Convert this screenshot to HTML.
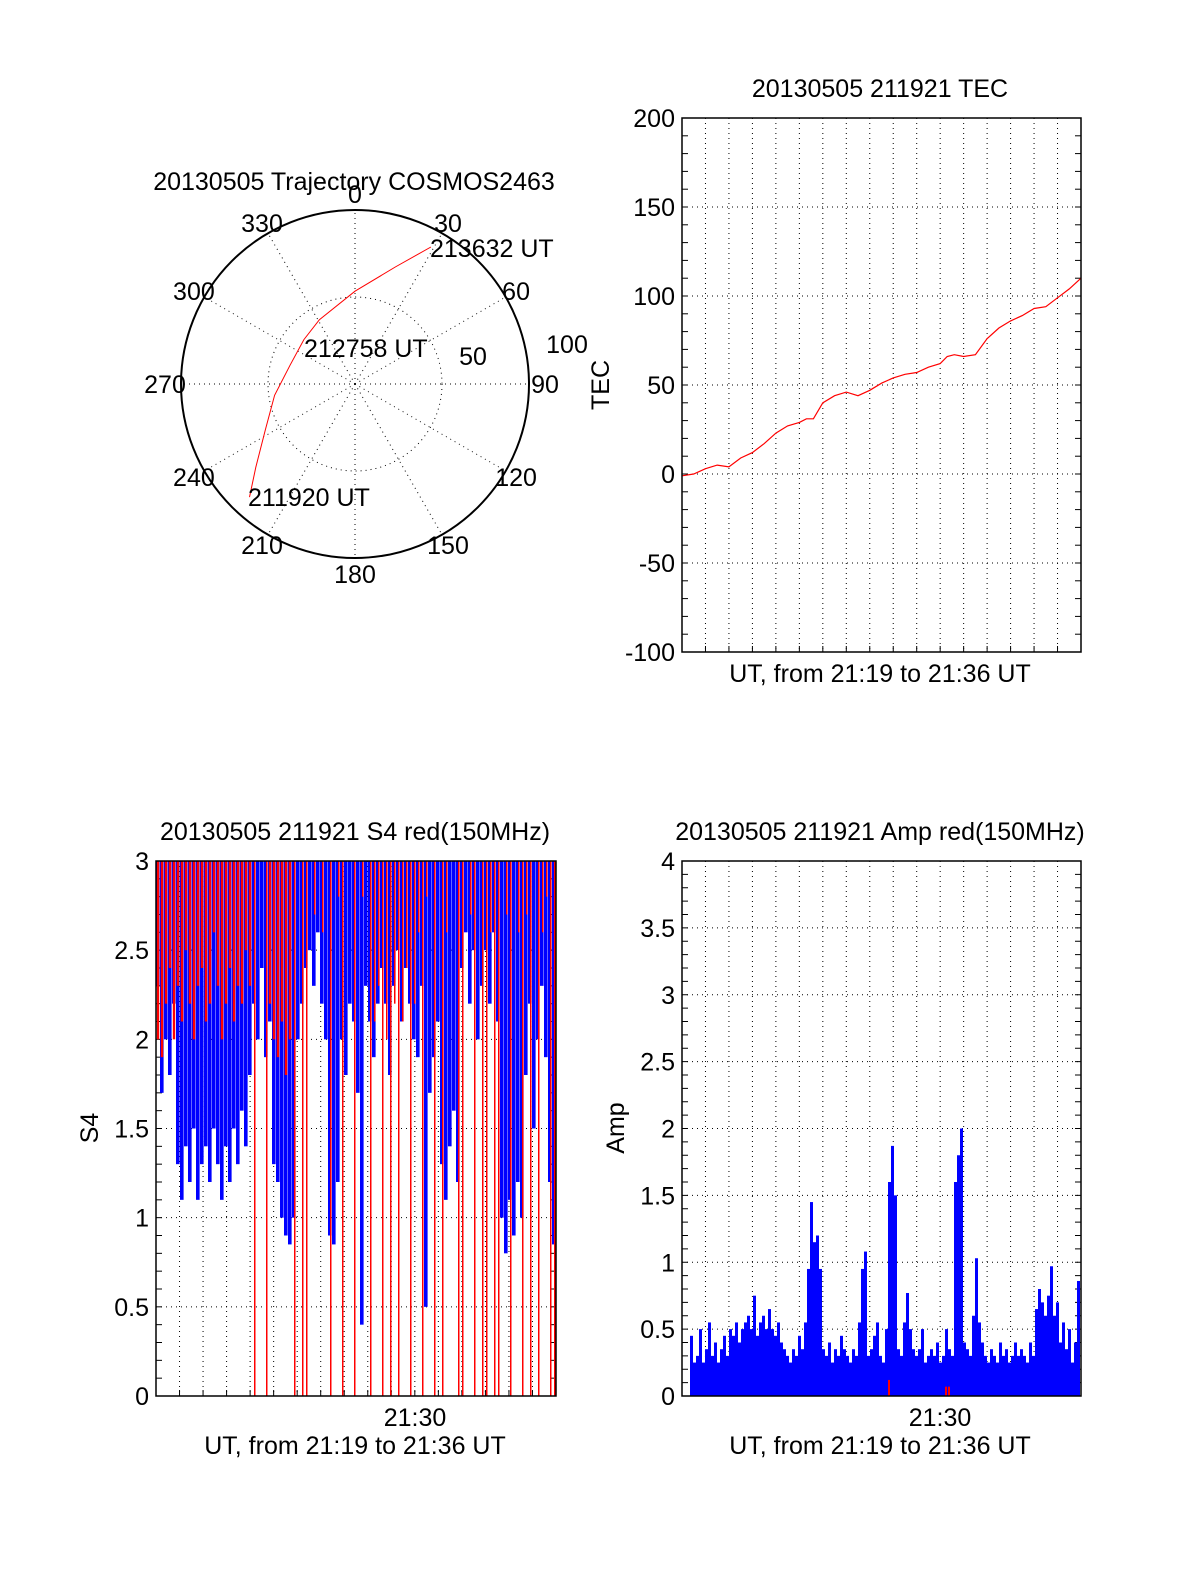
<!DOCTYPE html>
<html><head><meta charset="utf-8"><style>
html,body{margin:0;padding:0;background:#fff}
svg{display:block}
text{font-family:"Liberation Sans",sans-serif;font-size:25px;fill:#000}
</style></head><body>
<svg id="s" width="1200" height="1575" viewBox="0 0 1200 1575" xmlns="http://www.w3.org/2000/svg"></svg>
<script>
// ---- data ----
const trajAz=[223,230,243,262,286,311,331,360,379,389];
const trajEl=[10,23,38,48,55,55,52,42,26,9];
const polarLabels=["0","30","60","90","120","150","180","210","240","270","300","330"];
const tecT=[0,0.5,1,1.5,2,2.5,3,3.5,4,4.5,5,5.3,5.6,6,6.5,7,7.5,8,8.5,9,9.5,10,10.5,11,11.3,11.6,12,12.5,13,13.5,14,14.5,15,15.5,16,16.5,17];
const tecV=[-1,0,3,5,4,9,12,17,23,27,29,31,31,40,44,46,44,47,51,54,56,57,60,62,66,67,66,67,76,82,86,89,93,94,99,104,110];
const tecTicks=[-100,-50,0,50,100,150,200];
const s4Blue=[2.3,1.7,2.0,1.8,2.2,1.3,1.1,1.4,1.2,1.5,1.1,1.3,1.4,1.2,1.5,1.3,1.1,1.4,1.2,1.5,1.3,1.6,1.4,1.8,2.2,2.0,2.4,1.9,2.1,1.3,1.2,1.0,0.9,0.85,1.0,2.0,2.2,2.4,2.5,2.3,2.6,2.2,2.0,0.9,0.85,1.2,2.0,1.8,2.2,2.1,1.7,0.4,2.3,2.1,1.9,2.2,2.4,2.2,1.8,2.3,2.5,2.1,2.4,2.2,2.0,1.9,2.3,0.5,1.7,1.9,2.1,1.3,1.1,1.4,1.6,1.2,2.4,2.6,2.2,2.5,2.0,2.3,2.5,2.2,2.6,2.1,1.0,0.8,1.1,0.9,1.2,1.0,1.8,2.2,1.5,2.0,2.3,1.9,1.2,0.85];
const s4Red=[2.0,1.9,2.2,2.4,2.0,2.3,2.1,2.5,2.2,2.0,2.3,2.4,2.1,2.2,2.6,2.3,2.0,2.2,2.4,2.1,2.3,2.2,2.5,2.3,0,3,3,0,2.2,2.0,1.9,2.1,1.8,2.0,0,3,0,0,3,2.7,3,2.6,3,0,3,2.8,0,3,3,0,3,2.8,3,0,2.1,2.3,0,2.0,0,2.2,0,2.1,2.4,0,2.2,2.6,0,2.8,3,0,3,0,2.6,3,3,0,0,3,2.7,0,3,0,0,2.6,0,0,3,2.7,0,3,2.6,0,2.7,0,3,0,2.6,2.8,0,0];
const s4Ticks=["0","0.5","1","1.5","2","2.5","3"];
const ampBlue=[0.45,0.25,0.3,0.5,0.25,0.35,0.55,0.3,0.4,0.25,0.35,0.45,0.3,0.5,0.45,0.55,0.4,0.5,0.55,0.6,0.5,0.75,0.45,0.55,0.6,0.5,0.65,0.5,0.45,0.55,0.4,0.35,0.3,0.25,0.35,0.3,0.45,0.35,0.55,0.95,1.45,1.15,1.2,0.95,0.35,0.3,0.4,0.25,0.35,0.3,0.45,0.35,0.3,0.25,0.35,0.3,0.55,0.95,1.08,0.3,0.35,0.45,0.55,0.3,0.25,0.5,1.6,1.87,1.5,0.35,0.3,0.55,0.77,0.5,0.35,0.3,0.35,0.5,0.25,0.3,0.35,0.3,0.4,0.25,0.3,0.5,0.35,0.3,1.6,1.8,2.0,0.4,0.35,0.3,0.6,1.03,0.55,0.4,0.3,0.25,0.35,0.3,0.25,0.4,0.3,0.35,0.25,0.3,0.4,0.3,0.35,0.3,0.25,0.4,0.3,0.65,0.8,0.7,0.6,0.75,0.97,0.6,0.7,0.4,0.55,0.35,0.5,0.25,0.4,0.86];
const ampRedIdx=[66,85,86];
const ampRedVal=[0.12,0.07,0.07];
const ampTicks=["0","0.5","1","1.5","2","2.5","3","3.5","4"];

// ---- helpers ----
const NS="http://www.w3.org/2000/svg";
const svg=document.getElementById('s');
function mk(tag,attrs,parent){const e=document.createElementNS(NS,tag);for(const k in attrs)e.setAttribute(k,attrs[k]);(parent||svg).appendChild(e);return e;}
function txt(x,y,s,anchor,name,parent,extra){const t=mk('text',Object.assign({x:x,y:y,'text-anchor':anchor||'middle'},extra||{}),parent);t.textContent=s;


return t;}
const DOT={stroke:'#000','stroke-width':1,'stroke-dasharray':'1,4',fill:'none'};

// ---- polar ----
const cx=355,cy=384,R=174;
const gP=mk('g',{});


function pr(az,el){const r=(90-el)/90*R;const a=az*Math.PI/180;return [cx+r*Math.sin(a),cy-r*Math.cos(a)];}
for(let a=0;a<360;a+=30){const p=pr(a,0);const l=mk('line',Object.assign({x1:cx,y1:cy,x2:p[0],y2:p[1]},DOT),gP);

}
const ic=mk('circle',Object.assign({cx:cx,cy:cy,r:R/2},DOT),gP);


const oc=mk('circle',{cx:cx,cy:cy,r:R,fill:'none',stroke:'#000','stroke-width':2},gP);


polarLabels.forEach((s,i)=>{const a=i*30*Math.PI/180;const rr=R+(i%3===0?16:12);
let x=cx+rr*Math.sin(a),y=cy-rr*Math.cos(a)+9;
txt(x,y,s,'middle','polar-azimuth-label',gP);});
txt(567,353,"100",'middle','polar-ring-label',gP);
txt(473,365,"50",'middle','polar-ring-label',gP);
let d=trajAz.map((az,i)=>{const p=pr(az,trajEl[i]);return (i?'L':'M')+p[0].toFixed(1)+','+p[1].toFixed(1);}).join(' ');
const tp=mk('path',{d:d,fill:'none',stroke:'#f00','stroke-width':1},gP);


txt(430,257,"213632 UT",'start','trajectory-end-label',gP);
txt(304,357,"212758 UT",'start','trajectory-mid-label',gP);
txt(248,506,"211920 UT",'start','trajectory-start-label',gP);
txt(354,190,"20130505 Trajectory COSMOS2463",'middle','polar-title',gP);

// ---- generic axes ----
function frame(x0,y0,x1,y1,name){
 const g=mk('g',{});
 
 
 const w=(x1-x0)/17;
 for(let m=1;m<17;m++){const l=mk('line',Object.assign({x1:x0+m*w,y1:y0,x2:x0+m*w,y2:y1},DOT),g);
 
 
 mk('line',{x1:x0+m*w,y1:y1,x2:x0+m*w,y2:y1-6,stroke:'#000'},g);}
 return {g:g,w:w};
}
function hgrid(g,x0,x1,ys){ys.forEach(y=>{const l=mk('line',Object.assign({x1:x0,y1:y,x2:x1,y2:y},DOT),g);
 
 });}
function minorTicks(g,x0,x1,y0,y1,n){for(let i=1;i<n;i++){const y=y1-(y1-y0)*i/n;mk('line',{x1:x0,y1:y,x2:x0+6,y2:y,stroke:'#000'},g);mk('line',{x1:x1,y1:y,x2:x1-6,y2:y,stroke:'#000'},g);}}
function box(g,x0,y0,x1,y1){const r=mk('rect',{x:x0,y:y0,width:x1-x0,height:y1-y0,fill:'none',stroke:'#000','stroke-width':1.5},g);
 
 }

// ---- TEC ----
{const X0=682,Y0=118,X1=1081,Y1=652;const F=frame(X0,Y0,X1,Y1,'tec-plot');const g=F.g;
 const ys=v=>Y1-(v+100)/300*(Y1-Y0);const xs=t=>X0+t*F.w;
 hgrid(g,X0,X1,tecTicks.map(ys));minorTicks(g,X0,X1,Y0,Y1,30);
 tecTicks.forEach(v=>txt(675,ys(v)+9,String(v),'end','tec-y-tick-label',g));
 const p=mk('polyline',{points:tecT.map((t,i)=>xs(t).toFixed(1)+','+ys(tecV[i]).toFixed(1)).join(' '),fill:'none',stroke:'#f00','stroke-width':1.2},g);
 
 
 box(g,X0,Y0,X1,Y1);
 txt(880,97,"20130505 211921 TEC",'middle','tec-title',g);
 txt(880,682,"UT, from 21:19 to 21:36 UT",'middle','tec-x-axis-title',g);
 txt(609,385,"TEC",'middle','tec-y-axis-title',g,{transform:'rotate(-90 609 385)'});
}

// ---- S4 ----
{const X0=156,Y0=861,X1=556,Y1=1396;const F=frame(X0,Y0,X1,Y1,'s4-plot');const g=F.g;
 const ys=v=>Y1-v/3*(Y1-Y0);const dx=(X1-X0)/s4Blue.length;
 hgrid(g,X0,X1,[0.5,1,1.5,2,2.5].map(ys));minorTicks(g,X0,X1,Y0,Y1,30);
 s4Ticks.forEach(s=>txt(149,ys(parseFloat(s))+9,s,'end','s4-y-tick-label',g));
 s4Blue.forEach((v,i)=>{const r=mk('rect',{x:X0+i*dx,y:Y0,width:dx-0.4,height:ys(v)-Y0,fill:'#00f'},g);
  
  });
 s4Red.forEach((v,i)=>{if(v>=3)return;const thin=v<0.5||i>=38;const wd=thin?1.5:dx*0.6;const r=mk('rect',{x:X0+i*dx+(thin?dx/2:dx*0.2),y:Y0,width:wd,height:ys(v)-Y0,fill:'#f00'},g);
  
  });
 box(g,X0,Y0,X1,Y1);
 txt(355,840,"20130505 211921 S4 red(150MHz)",'middle','s4-title',g);
 txt(415,1426,"21:30",'middle','s4-x-tick-label',g);
 txt(355,1454,"UT, from 21:19 to 21:36 UT",'middle','s4-x-axis-title',g);
 txt(98,1128,"S4",'middle','s4-y-axis-title',g,{transform:'rotate(-90 98 1128)'});
}

// ---- Amp ----
{const X0=682,Y0=861,X1=1081,Y1=1396;const F=frame(X0,Y0,X1,Y1,'amp-plot');const g=F.g;
 const ys=v=>Y1-v/4*(Y1-Y0);const xs=i=>690+i*3;
 hgrid(g,X0,X1,[0.5,1,1.5,2,2.5,3,3.5].map(ys));minorTicks(g,X0,X1,Y0,Y1,40);
 ampTicks.forEach(s=>txt(675,ys(parseFloat(s))+9,s,'end','amp-y-tick-label',g));
 ampBlue.forEach((v,i)=>{const r=mk('rect',{x:xs(i),y:ys(v),width:3,height:Y1-ys(v),fill:'#00f'},g);
  
  });
 ampRedIdx.forEach((k,j)=>{const r=mk('rect',{x:xs(k),y:ys(ampRedVal[j]),width:2,height:Y1-ys(ampRedVal[j]),fill:'#f00'},g);
  
  });
 box(g,X0,Y0,X1,Y1);
 txt(880,840,"20130505 211921 Amp red(150MHz)",'middle','amp-title',g);
 txt(940,1426,"21:30",'middle','amp-x-tick-label',g);
 txt(880,1454,"UT, from 21:19 to 21:36 UT",'middle','amp-x-axis-title',g);
 txt(624,1128,"Amp",'middle','amp-y-axis-title',g,{transform:'rotate(-90 624 1128)'});
}
</script>
</body></html>
